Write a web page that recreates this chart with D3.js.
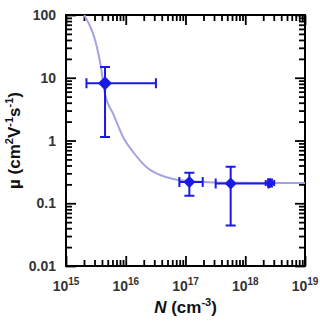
<!DOCTYPE html>
<html>
<head>
<meta charset="utf-8">
<script src="https://cdn.jsdelivr.net/npm/d3@7"></script>
<style>
  body { margin: 0; background: #fff; }
  svg { font-family: "Liberation Sans", Arial, sans-serif; }
</style>
</head>
<body>
<svg id="chart" width="320" height="324"></svg>
<script>
// measured points: N (cm^-3), mobility (cm2/Vs) with error ranges
const pointN = [4.5e15, 1.16e17, 5.7e17, 2.6e18];
const pointMu = [8.2, 0.218, 0.207, 0.21];
const errNLow = [2.2e15, 7.9e16, 3.2e17, 2.2e18];
const errNHigh = [3.2e16, 1.94e17, 2.45e18, 3.05e18];
const errMuLow = [1.14, 0.132, 0.044, 0.185];
const errMuHigh = [14.8, 0.307, 0.383, 0.24];

// fitted curve
const curveN = [2.02e15, 3.85e15, 4.5e15, 6.2e15, 9.1e15, 1.34e16, 2.24e16, 4.84e16, 7.6e16, 3e17, 1e18, 1e19];
const curveMu = [100, 14.7, 5.5, 2.64, 1.12, 0.65, 0.374, 0.259, 0.235, 0.215, 0.212, 0.21];

const xTicks = [1e15, 1e16, 1e17, 1e18, 1e19];
const yTicks = [0.01, 0.1, 1, 10, 100];

const margin = { left: 66, right: 15, top: 15, bottom: 58 };
const width = 320, height = 324;

const svg = d3.select("#chart");

const x = d3.scaleLog().domain([1e15, 1e19]).range([margin.left, width - margin.right]);
const y = d3.scaleLog().domain([0.01, 100]).range([height - margin.bottom, margin.top]);

const blue = "#1a1ae6";

//minor tick positions for log axis
function logTicks(domain) {
  let out = [];
  for (let e = Math.round(Math.log10(domain[0])); e < Math.round(Math.log10(domain[1])); e++) {
    for (let m = 2; m <= 9; m++) out.push(m * Math.pow(10, e));
  }
  return out;
}

const pLeft = x.range()[0], pRight = x.range()[1];
const pBottom = y.range()[0], pTop = y.range()[1];

//inward ticks on all four sides, drawn with d3 axes
function addAxis(axisFn, scale, values, size, tx, ty) {
  const g = svg.append("g")
    .attr("transform", `translate(${tx},${ty})`)
    .call(axisFn(scale).tickValues(values).tickSize(size).tickFormat(""));
  g.select(".domain").remove();
  g.selectAll(".tick line").attr("stroke", "#000").attr("stroke-width", 1.8);
}
const xMinor = logTicks(x.domain()), yMinor = logTicks(y.domain());
addAxis(d3.axisBottom, x, xTicks, -10, 0, pBottom);
addAxis(d3.axisBottom, x, xMinor, -6, 0, pBottom);
addAxis(d3.axisTop, x, xTicks, -10, 0, pTop);
addAxis(d3.axisTop, x, xMinor, -6, 0, pTop);
addAxis(d3.axisLeft, y, yTicks, -10, pLeft, 0);
addAxis(d3.axisLeft, y, yMinor, -6, pLeft, 0);
addAxis(d3.axisRight, y, yTicks, -10, pRight, 0);
addAxis(d3.axisRight, y, yMinor, -6, pRight, 0);

//frame
svg.append("rect")
  .attr("x", pLeft).attr("y", pTop)
  .attr("width", pRight - pLeft).attr("height", pBottom - pTop)
  .attr("fill", "none").attr("stroke", "#000").attr("stroke-width", 2);

//fit curve
const line = d3.line()
  .x(d => x(d[0]))
  .y(d => y(d[1]))
  .curve(d3.curveMonotoneX);
svg.append("path")
  .datum(curveN.map((n, i) => [n, curveMu[i]]))
  .attr("d", line)
  .attr("fill", "none")
  .attr("stroke", "#a3a3e3")
  .attr("stroke-width", 2);

//error bars
const eb = svg.append("g");
pointN.forEach((n, i) => {
  const cx = x(n), cy = y(pointMu[i]);
  const c = i === 3 ? 3 : 5;
  let d = `M${x(errNLow[i])},${cy}H${x(errNHigh[i])}M${cx},${y(errMuLow[i])}V${y(errMuHigh[i])}`;
  [errNLow[i], errNHigh[i]].forEach(v => { d += `M${x(v)},${cy - c}V${cy + c}`; });
  [errMuLow[i], errMuHigh[i]].forEach(v => { d += `M${cx - c},${y(v)}H${cx + c}`; });
  eb.append("path").attr("d", d).attr("stroke", blue).attr("stroke-width", 2).attr("fill", "none");
});

//diamonds
const dsize = [7, 6, 6, 5];
svg.append("g").selectAll("path")
  .data(pointN)
  .join("path")
  .attr("d", (n, i) => {
    const cx = x(n), cy = y(pointMu[i]), s = dsize[i];
    return `M${cx},${cy - s}L${cx + s},${cy}L${cx},${cy + s}L${cx - s},${cy}Z`;
  })
  .attr("fill", blue);

//tick labels
const xl = svg.append("g").attr("font-size", 14).attr("font-weight", "bold").attr("fill", "#333");
xTicks.forEach(v => {
  const t = xl.append("text").attr("x", x(v)).attr("y", 291).attr("text-anchor", "middle");
  t.append("tspan").text("10");
  t.append("tspan").attr("font-size", 10).attr("dy", -6).text(String(Math.round(Math.log10(v))));
});
const yl = svg.append("g").attr("font-size", 14).attr("font-weight", "bold").attr("fill", "#333");
yTicks.forEach(v => {
  yl.append("text").attr("x", 56).attr("y", y(v) + 5).attr("text-anchor", "end").text(String(v));
});

//axis titles
const xt = svg.append("text")
  .attr("x", (pLeft + pRight) / 2).attr("y", 313)
  .attr("text-anchor", "middle")
  .attr("font-size", 17).attr("font-weight", "bold").attr("fill", "#111");
xt.append("tspan").attr("font-style", "italic").text("N");
xt.append("tspan").text(" (cm");
xt.append("tspan").attr("font-size", 11).attr("dy", -7).text("-3");
xt.append("tspan").attr("dy", 7).text(")");

const yt = svg.append("text")
  .attr("transform", `translate(20,${(pBottom + pTop) / 2}) rotate(-90)`)
  .attr("text-anchor", "middle")
  .attr("font-size", 17).attr("font-weight", "bold").attr("fill", "#111");
yt.append("tspan").text("\u00b5 (cm");
yt.append("tspan").attr("font-size", 11).attr("dy", -7).text("2");
yt.append("tspan").attr("dy", 7).text("V");
yt.append("tspan").attr("font-size", 11).attr("dy", -7).text("-1");
yt.append("tspan").attr("dy", 7).text("s");
yt.append("tspan").attr("font-size", 11).attr("dy", -7).text("-1");
yt.append("tspan").attr("dy", 7).text(")");
</script>
</body>
</html>
